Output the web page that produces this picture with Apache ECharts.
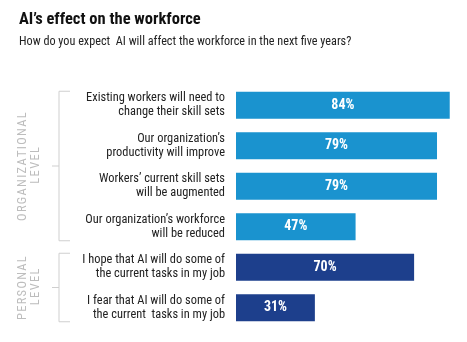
<!DOCTYPE html>
<html><head><meta charset="utf-8">
<script src="https://cdn.jsdelivr.net/npm/echarts@6/dist/echarts.min.js"></script>
<style>html,body{margin:0;padding:0;background:#fff}#c{width:467px;height:342px}</style>
</head><body><div id="c"></div>
<script>
const categories = [
  "Existing workers will need to\nchange their skill sets",
  "Our organization’s\nproductivity will improve",
  "Workers’ current skill sets\nwill be augmented",
  "Our organization’s workforce\nwill be reduced",
  "I hope that AI will do some of\nthe current tasks in my job",
  "I fear that AI will do some of\nthe current  tasks in my job"
];
const values = [84, 79, 79, 47, 70, 31];
const groupOf = [0, 0, 0, 0, 1, 1];
const groups = ["ORGANIZATIONAL\nLEVEL", "PERSONAL\nLEVEL"];
const groupColors = ["#1a93cf", "#1d3f8c"];
const titleText = "AI’s effect on the workforce";
const subtitleText = "How do you expect  AI will affect the workforce in the next five years?";

const FONT = '"Roboto Condensed", "Liberation Sans", sans-serif';
const chart = echarts.init(document.getElementById('c'), null, {renderer: 'canvas'});
chart.setOption({
  animation: false,
  backgroundColor: '#fff',
  title: {
    text: titleText, subtext: subtitleText, left: 14, top: 6, itemGap: 8,
    textStyle: {fontFamily: FONT, fontWeight: 'bold', fontSize: 16.5, color: '#111'},
    subtextStyle: {fontFamily: FONT, fontSize: 12.2, color: '#222'}
  },
  grid: {left: 236, right: 2, top: 85, bottom: 14},
  xAxis: {type: 'value', min: 0, max: 90, show: false},
  yAxis: {
    type: 'category', inverse: true, data: categories,
    axisLine: {show: false}, axisTick: {show: false},
    axisLabel: {margin: 11, align: 'right', fontFamily: FONT, fontSize: 12.4, lineHeight: 14, color: '#222'}
  },
  series: [{
    type: 'bar', barCategoryGap: '33%',
    data: values.map((v, i) => ({value: v, itemStyle: {color: groupColors[groupOf[i]]}})),
    label: {show: true, position: 'inside', formatter: '{c}%', color: '#fff', fontWeight: 'bold', fontFamily: FONT, fontSize: 14}
  }]
});

// group brackets, placed from the axis scale
const gfx = [];
groups.forEach((g, gi) => {
  const idx = groupOf.map((x, i) => x === gi ? i : -1).filter(i => i >= 0);
  const first = idx[0], last = idx[idx.length - 1];
  const yTop = chart.convertToPixel({yAxisIndex: 0}, first) - 14;
  const yBot = chart.convertToPixel({yAxisIndex: 0}, last) + 14;
  const yMid = (yTop + yBot) / 2;
  const xL = 59;
  const line = {stroke: '#cfcfcf', lineWidth: 1};
  gfx.push({type: 'polyline', shape: {points: [[xL + 11, yTop], [xL, yTop], [xL, yBot], [xL + 11, yBot]]}, style: Object.assign({fill: null}, line), silent: true});
  gfx.push({type: 'line', shape: {x1: xL - 7, y1: yMid, x2: xL, y2: yMid}, style: line, silent: true});
  gfx.push({type: 'text', x: 29, y: yMid, rotation: Math.PI / 2,
    style: {text: g.split('').join('\u200a'), align: 'center', verticalAlign: 'middle', fill: '#bdbdbd', fontFamily: FONT, fontSize: 12.5, lineHeight: 13}, silent: true});
});
chart.setOption({graphic: gfx});
</script></body></html>
